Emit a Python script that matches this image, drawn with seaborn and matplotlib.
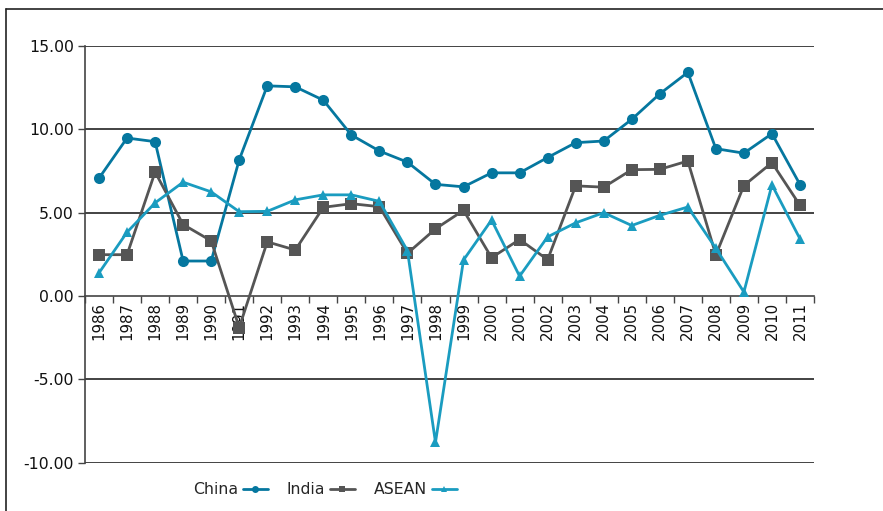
import matplotlib
matplotlib.use("Agg")
import matplotlib.pyplot as plt
from matplotlib.lines import Line2D
from matplotlib.ticker import FixedLocator, FuncFormatter
import seaborn as sns
import pandas as pd

years = [str(y) for y in range(1986, 2012)]
china = [7.07, 9.48, 9.26, 2.10, 2.10, 8.17, 12.61, 12.55, 11.75, 9.66, 8.70, 8.03,
         6.70, 6.55, 7.39, 7.39, 8.31, 9.20, 9.30, 10.60, 12.13, 13.42, 8.84, 8.57,
         9.74, 6.69]
india = [2.48, 2.48, 7.44, 4.29, 3.31, -1.89, 3.25, 2.76, 5.32, 5.54, 5.36, 2.56,
         4.03, 5.14, 2.30, 3.39, 2.18, 6.61, 6.53, 7.58, 7.60, 8.10, 2.46, 6.63,
         8.00, 5.44]
asean = [1.39, 3.83, 5.59, 6.83, 6.25, 5.06, 5.08, 5.77, 6.07, 6.07, 5.68, 2.72,
         -8.78, 2.16, 4.56, 1.19, 3.55, 4.39, 5.00, 4.23, 4.84, 5.34, 2.86, 0.24,
         6.67, 3.43]
series_names = ["China", "India", "ASEAN"]
y_ticks = [-10, -5, 0, 5, 10, 15]

sns.set_style("white")
plt.rcParams["font.family"] = ["DejaVu Sans"]

colors = {"China": "#05779f", "India": "#555555", "ASEAN": "#1a9cc0"}
markers = {"China": "o", "India": "s", "ASEAN": "^"}
msizes = {"China": 8, "India": 8, "ASEAN": 7.5}

pos = list(range(len(years)))
df = pd.DataFrame({"pos": pos * 3,
                   "value": china + india + asean,
                   "series": sum([[n] * len(years) for n in series_names], [])})

fig = plt.figure(figsize=(8.83, 5.11), dpi=100)
ax = fig.add_axes([85 / 883, 1 - 462.7 / 511, (814 - 85) / 883, (462.7 - 46) / 511])

for n in series_names:
    sub = df[df["series"] == n]
    sns.lineplot(data=sub, x="pos", y="value", ax=ax, color=colors[n],
                 marker=markers[n], markersize=msizes[n], markeredgewidth=0,
                 linewidth=2, label=n, legend=False, zorder=3)

ax.set_xlim(-0.5, len(years) - 0.5)
ax.set_ylim(-10, 15)
ax.set_xlabel("")
ax.set_ylabel("")

# gridlines
for yv in y_ticks:
    if yv != 0:
        ax.axhline(yv, color="#222222", linewidth=1.2, zorder=1)

ax.set_yticks(y_ticks)
ax.yaxis.set_major_formatter(FuncFormatter(lambda v, p: f"{v:.2f}"))
ax.tick_params(axis="y", direction="out", length=5, width=1, color="#444444",
               labelsize=11.3, pad=3, left=True, labelcolor="#111111")

ax.set_xticks(pos)
ax.set_xticklabels(years)
ax.xaxis.set_minor_locator(FixedLocator([p - 0.5 for p in pos] + [len(years) - 0.5]))
ax.tick_params(axis="x", which="major", length=0, pad=4, labelrotation=90,
               labelsize=10.8, labelcolor="#111111")
ax.tick_params(axis="x", which="minor", direction="out", length=5, width=1,
               color="#444444", bottom=True)

for s in ["top", "right"]:
    ax.spines[s].set_visible(False)
ax.spines["bottom"].set_position(("data", 0))
ax.spines["bottom"].set_color("#444444")
ax.spines["bottom"].set_linewidth(1.2)
ax.spines["left"].set_color("#444444")
ax.spines["left"].set_linewidth(1.2)

handles = [Line2D([], [], color=colors[n], marker=markers[n], markersize=5,
                  markeredgewidth=0, linewidth=2) for n in series_names]
fig.legend(handles, series_names, loc="center", bbox_to_anchor=(325 / 883, 1 - 490 / 511),
           ncol=3, frameon=False, markerfirst=False, fontsize=11.3, handlelength=1.6,
           handletextpad=0.3, columnspacing=1.2)

# outer frame (left and top)
fig.add_artist(Line2D([6 / 883, 6 / 883], [0, 1 - 9 / 511], color="#222222", linewidth=1.2))
fig.add_artist(Line2D([6 / 883, 1], [1 - 9 / 511, 1 - 9 / 511], color="#222222", linewidth=1.2))

fig.savefig("out.png", dpi=100)
